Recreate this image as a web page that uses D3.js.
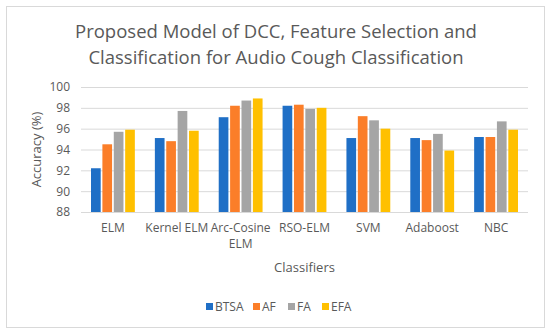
<!DOCTYPE html>
<html><head><meta charset="utf-8">
<script src="https://cdn.jsdelivr.net/npm/d3@7"></script>
<style>body{margin:0;background:#fff}svg{display:block}text{font-family:"Open Sans",sans-serif}</style>
</head><body>
<svg id="c" width="550" height="334"></svg>
<script>
const categories = ["ELM","Kernel ELM","Arc-Cosine ELM","RSO-ELM","SVM","Adaboost","NBC"];
const seriesNames = ["BTSA","AF","FA","EFA"];
const BTSA = [92.2,95.1,97.1,98.2,95.1,95.1,95.2];
const AF   = [94.5,94.8,98.2,98.3,97.2,94.9,95.2];
const FA   = [95.7,97.7,98.7,97.9,96.8,95.5,96.7];
const EFA  = [95.9,95.8,98.9,98.0,96.0,93.9,95.9];
const yTicks = [88,90,92,94,96,98,100];
const colors = ["#1F6FC6","#FB7E29","#A5A5A5","#FFC000"];
const seriesValues = [BTSA,AF,FA,EFA];

const svg = d3.select("#c");
svg.append("rect").attr("x",6.5).attr("y",6.5).attr("width",538).attr("height",321)
  .attr("fill","#fff").attr("stroke","#d9d9d9");

const L=81, R=528, T=87, B=212;
const x0 = d3.scaleBand().domain(categories).range([L,R]).paddingInner(0.26).paddingOuter(0.13);
const x1 = d3.scaleBand().domain(seriesNames).range([0,x0.bandwidth()]).padding(0.15);
const y = d3.scaleLinear().domain([88,100]).range([B,T]);

// grid
svg.append("g").selectAll("line").data(yTicks).join("line")
  .attr("x1",L).attr("x2",R).attr("y1",d=>y(d)+0.5).attr("y2",d=>y(d)+0.5)
  .attr("stroke","#d9d9d9").attr("stroke-width",1);

// y axis
const ya = svg.append("g").attr("transform",`translate(${L},0)`)
  .call(d3.axisLeft(y).tickValues(yTicks).tickSize(0).tickPadding(11));
ya.select(".domain").remove();
ya.selectAll("text").attr("fill","#595959").style("font-size","12px");

// bars
const groups = svg.append("g").selectAll("g").data(categories).join("g")
  .attr("transform",d=>`translate(${x0(d)},0)`);
groups.selectAll("rect").data((c,i)=>seriesNames.map((s,j)=>({s,v:seriesValues[j][i],j}))).join("rect")
  .attr("x",d=>x1(d.s)).attr("width",x1.bandwidth())
  .attr("y",d=>y(d.v)).attr("height",d=>B-y(d.v))
  .attr("fill",d=>colors[d.j]);

// x axis labels
const xa = svg.append("g").attr("transform",`translate(0,${B})`)
  .call(d3.axisBottom(x0).tickSize(0).tickPadding(11));
xa.select(".domain").remove();
xa.selectAll("text").attr("fill","#595959").style("font-size","12px");
function wrap(sel,width){
  sel.each(function(){
    const t=d3.select(this); const words=t.text().split(/\s+/); t.text(null);
    const yv=t.attr("y"), dy=parseFloat(t.attr("dy"));
    let line=[], ln=0, ts=t.append("tspan").attr("x",0).attr("y",yv).attr("dy",dy+"em");
    for(const w of words){
      line.push(w); ts.text(line.join(" "));
      if(ts.node().getComputedTextLength()>width && line.length>1){
        line.pop(); ts.text(line.join(" ")); line=[w];
        ts=t.append("tspan").attr("x",0).attr("y",yv).attr("dy",(++ln*1.35+dy)+"em").text(w);
      }
    }
  });
}
xa.selectAll(".tick text").call(wrap,x0.step());

// axis titles
svg.append("text").attr("x",(L+R)/2).attr("y",272).attr("text-anchor","middle")
  .attr("fill","#595959").style("font-size","13px").text("Classifiers");
svg.append("text").attr("transform",`translate(41,${(T+B)/2}) rotate(-90)`).attr("text-anchor","middle")
  .attr("fill","#595959").style("font-size","13px").text("Accuracy (%)");

// title
const title = svg.append("text").attr("text-anchor","middle").attr("fill","#595959").style("font-size","18.5px");
title.append("tspan").attr("x",276).attr("y",38).text("Proposed Model of DCC, Feature Selection and");
title.append("tspan").attr("x",276).attr("y",64).text("Classification for Audio Cough Classification");

// legend
const lg = svg.append("g");
const lx = [206,253,288,322];
seriesNames.forEach((s,i)=>{
  lg.append("rect").attr("x",lx[i]).attr("y",303).attr("width",7).attr("height",7).attr("fill",colors[i]);
  lg.append("text").attr("x",lx[i]+9).attr("y",311).attr("fill","#595959").style("font-size","12px").text(s);
});
</script>
</body></html>
